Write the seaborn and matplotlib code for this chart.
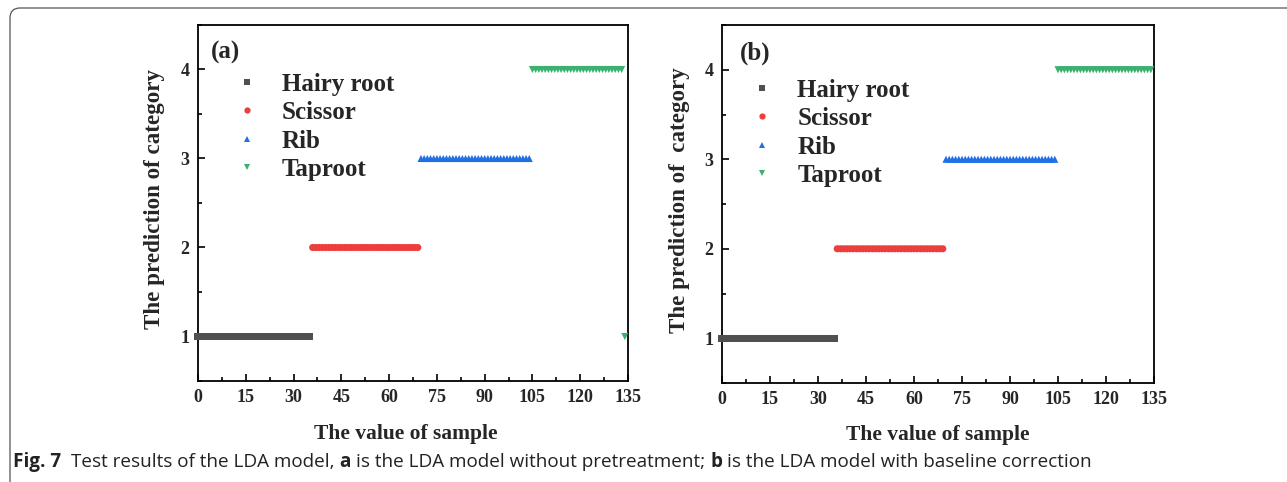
import matplotlib
matplotlib.use("Agg")
import matplotlib.pyplot as plt
from matplotlib.lines import Line2D
from matplotlib.patches import FancyBboxPatch
from matplotlib.transforms import IdentityTransform
from matplotlib.ticker import MultipleLocator
import seaborn as sns
import pandas as pd

# ---------------- data ----------------
classes = ["Hairy root", "Scissor", "Rib", "Taproot"]
class_sizes = [36, 34, 35, 30]
# predicted category for each sample
pred_a = [1] * 36 + [2] * 34 + [3] * 35 + [4] * 29 + [1]
pred_b = [1] * 36 + [2] * 34 + [3] * 35 + [4] * 30
x_ticks = [0, 15, 30, 45, 60, 75, 90, 105, 120, 135]
y_ticks = [1, 2, 3, 4]
panel_labels = ["(a)", "(b)"]
ylabels = ["The prediction of category", "The prediction of  category"]
xlabel = "The value of sample"

colors = {"Hairy root": "#505050", "Scissor": "#ee3d3d",
          "Rib": "#1f6fe5", "Taproot": "#3cb06f"}
markers = {"Hairy root": "s", "Scissor": "o", "Rib": "^", "Taproot": "v"}

true_class = []
for c, n in zip(classes, class_sizes):
    true_class += [c] * n
samples = list(range(len(true_class)))

df_a = pd.DataFrame({"sample": samples, "pred": pred_a, "cls": true_class})
df_b = pd.DataFrame({"sample": samples, "pred": pred_b, "cls": true_class})

# ---------------- style ----------------
sns.set_theme(style="white")
plt.rcParams["font.family"] = ["Liberation Serif", "DejaVu Serif"]
plt.rcParams["font.weight"] = "bold"
plt.rcParams["axes.labelweight"] = "bold"

W, H = 1287, 482
fig = plt.figure(figsize=(W / 100, H / 100), dpi=100)
fig.patch.set_facecolor("white")

ax_a = fig.add_axes([198 / W, 1 - 381 / H, 430 / W, 356 / H])
ax_b = fig.add_axes([722 / W, 1 - 383 / H, 432 / W, 358 / H])

setup = [
    (ax_a, df_a, (0.030, 0.922), (0.085, 0.866), -0.077, -0.121, 0.484),
    (ax_b, df_b, (0.042, 0.922), (0.064, 0.850), -0.075, -0.118, 0.50),
]

for i, (ax, df, plab, legpos, ylab_x, xlab_y, xlab_x) in enumerate(setup):
    sns.scatterplot(data=df, x="sample", y="pred", hue="cls", style="cls",
                    palette=colors, markers=markers, s=26, linewidth=0,
                    ax=ax, legend=False, zorder=3, clip_on=False)
    ax.set_xlim(0, 135)
    ax.set_ylim(0.5, 4.5)
    ax.set_xticks(x_ticks)
    ax.set_yticks(y_ticks)
    ax.xaxis.set_minor_locator(MultipleLocator(7.5))
    ax.yaxis.set_minor_locator(MultipleLocator(0.5))
    ax.tick_params(which="both", direction="in", top=False, right=False,
                   bottom=True, left=True, width=1.2, color="black")
    ax.tick_params(which="major", length=5, labelsize=13, pad=6)
    ax.tick_params(which="minor", length=3)
    for lab in ax.get_xticklabels() + ax.get_yticklabels():
        lab.set_fontweight("bold")
    for sp in ax.spines.values():
        sp.set_visible(True)
        sp.set_color("black")
        sp.set_linewidth(1.3)
    ax.set_xlabel(xlabel, fontsize=15.5, fontweight="bold")
    ax.set_ylabel(ylabels[i], fontsize=16.6, fontweight="bold")
    ax.xaxis.set_label_coords(xlab_x, xlab_y)
    ax.yaxis.set_label_coords(ylab_x, 0.51)
    ax.text(plab[0], plab[1], panel_labels[i], transform=ax.transAxes,
            fontsize=18, fontweight="bold", va="center", ha="left")
    handles = [Line2D([0], [0], linestyle="none", marker=markers[c],
                      color=colors[c], markersize=4.5, markeredgewidth=0)
               for c in classes]
    ax.legend(handles, classes, loc="upper left", bbox_to_anchor=legpos,
              frameon=False, borderpad=0, borderaxespad=0,
              handlelength=1.0, handletextpad=0.9, labelspacing=0.22,
              prop={"family": "Liberation Serif", "weight": "bold", "size": 18})

# ---------------- outer frame ----------------
frame = FancyBboxPatch((10, -30), 1320, (H - 8) + 30,
                       boxstyle="round,pad=0,rounding_size=10",
                       transform=IdentityTransform(), fill=False,
                       edgecolor="#555555", linewidth=0.9, zorder=0)
fig.add_artist(frame)

# ---------------- caption ----------------
segments = [("Fig. 7", "bold"), ("Test results of the LDA model,", "normal"),
            ("a", "bold"), ("is the LDA model without pretreatment;", "normal"),
            ("b", "bold"), ("is the LDA model with baseline correction", "normal")]
gaps = [10, 5, 5, 5, 5]
cap_font = "Open Sans"
cap_size = 13.6
fig.canvas.draw()
renderer = fig.canvas.get_renderer()
xpos = 13
ycap = 1 - 467 / H
for k, (txt, wt) in enumerate(segments):
    t = fig.text(xpos / W, ycap, txt, fontsize=cap_size, fontweight=wt,
                 family=cap_font, va="baseline", ha="left", color="#222222")
    ext = t.get_window_extent(renderer)
    xpos = ext.x1 + (gaps[k] if k < len(gaps) else 0)

fig.savefig("out.png", dpi=100)
